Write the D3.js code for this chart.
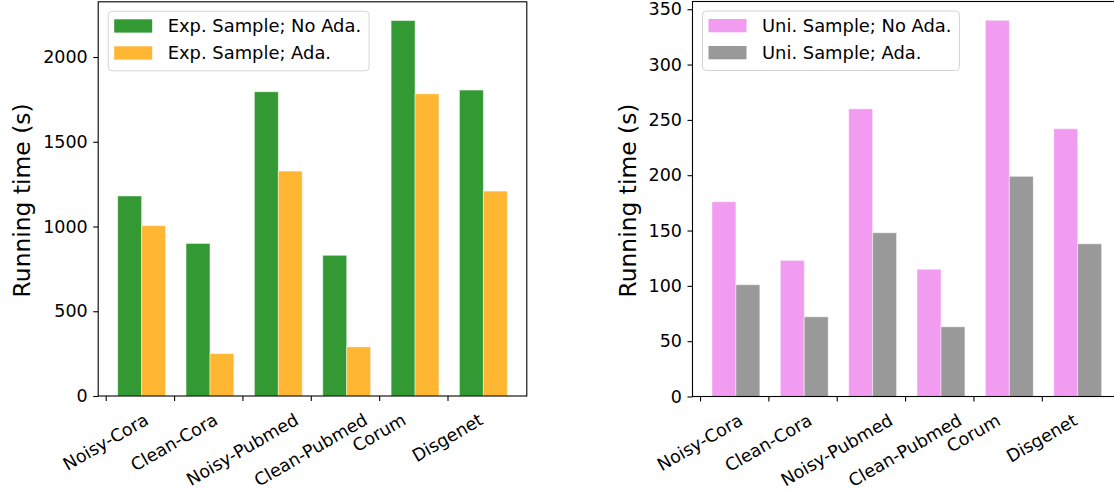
<!DOCTYPE html>
<html>
<head>
<meta charset="utf-8">
<script src="https://cdn.jsdelivr.net/npm/d3@7"></script>
<style>
  html, body { margin: 0; padding: 0; background: #fff; }
  svg { display: block; font-family: "DejaVu Sans", sans-serif; }
</style>
</head>
<body>
<svg id="chart" width="1114" height="490"></svg>
<script>
// Datasets shown along the x axis of both panels
const categories = ["Noisy-Cora", "Clean-Cora", "Noisy-Pubmed", "Clean-Pubmed", "Corum", "Disgenet"];

// Left panel: exponential sampling, running time in seconds
const expNoAda = [1180, 900, 1795, 830, 2215, 1805];
const expAda   = [1005, 250, 1327, 290, 1783, 1209];

// Right panel: uniform sampling, running time in seconds
const uniNoAda = [176, 123, 260, 115, 340, 242];
const uniAda   = [101, 72, 148, 63, 199, 138];

const leftTicks  = [0, 500, 1000, 1500, 2000];
const rightTicks = [0, 50, 100, 150, 200, 250, 300, 350];

const seriesLabels = {
  left:  ["Exp. Sample; No Ada.", "Exp. Sample; Ada."],
  right: ["Uni. Sample; No Ada.", "Uni. Sample; Ada."]
};

const svg = d3.select("#chart");
const FONT = 17.5;

function panel(opts) {
  const { x0, x1, y0, y1, a, b, colors, labels, ticks, ylabelX } = opts;
  const g = svg.append("g");

  const maxV = d3.max(a.concat(b)) * 1.05;
  const x = d3.scaleLinear().domain([-0.11, 6.16]).range([x0, x1]);
  const y = d3.scaleLinear().domain([0, maxV]).range([y1, y0]);
  const w = 0.35;

  // grouped bars: first series at i+w, second at i+2w
  [a, b].forEach((vals, s) => {
    g.append("g").selectAll("rect").data(vals).join("rect")
      .attr("x", (d, i) => x(i + w * (s + 1) - w / 2))
      .attr("width", (d, i) => x(i + w * (s + 1) + w / 2) - x(i + w * (s + 1) - w / 2))
      .attr("y", d => y(d))
      .attr("height", d => y(0) - y(d))
      .attr("fill", colors[s])
      .attr("stroke", "#ffffff")
      .attr("stroke-opacity", 0.45)
      .attr("stroke-width", 1);
  });

  // y axis
  const ya = g.append("g").attr("transform", `translate(${x0},0)`)
    .call(d3.axisLeft(y).tickValues(ticks).tickSize(5).tickPadding(5.5).tickFormat(d3.format("d")));
  ya.select(".domain").remove();
  ya.selectAll("line").attr("stroke", "#000").attr("stroke-width", 1.1);
  ya.selectAll("text").attr("font-size", FONT).attr("fill", "#000").attr("font-family", "DejaVu Sans");

  // x axis with rotated, centred labels
  const xa = g.append("g").attr("transform", `translate(0,${y1})`)
    .call(d3.axisBottom(x).tickValues(d3.range(categories.length)).tickSize(5).tickFormat(""));
  xa.select(".domain").remove();
  xa.selectAll("line").attr("stroke", "#000").attr("stroke-width", 1.1);

  const lab = g.append("g").selectAll("text").data(categories).join("text")
    .attr("font-size", FONT)
    .attr("text-anchor", "middle")
    .attr("dominant-baseline", "central")
    .text(d => d);
  lab.each(function (d, i) {
    const tw = this.getComputedTextLength();
    const bh = tw * 0.5 + 13;
    const cx = x(i), cy = y1 + 15.7 + bh / 2;
    d3.select(this).attr("x", cx).attr("y", cy)
      .attr("transform", `rotate(-30,${cx},${cy})`);
  });

  // axes frame
  g.append("rect")
    .attr("x", x0).attr("y", y0)
    .attr("width", x1 - x0).attr("height", y1 - y0)
    .attr("fill", "none").attr("stroke", "#000").attr("stroke-width", 1.1);

  // y label
  g.append("text")
    .attr("transform", `translate(${ylabelX},${(y0 + y1) / 2 + 1.5}) rotate(-90)`)
    .attr("text-anchor", "middle")
    .attr("font-size", 23.4)
    .text("Running time (s)");

  // legend
  const lg = g.append("g").attr("transform", `translate(${x0 + 10},${y0 + 9.5})`);
  const textW = [];
  const items = lg.selectAll("g").data(labels).join("g")
    .attr("transform", (d, i) => `translate(0,${i * 27})`);
  const box = lg.insert("rect", ":first-child")
    .attr("rx", 4).attr("ry", 4)
    .attr("fill", "#fff").attr("fill-opacity", 0.8)
    .attr("stroke", "#d4d4d4").attr("stroke-width", 1);
  items.append("rect")
    .attr("x", 6).attr("y", 8).attr("width", 38).attr("height", 13.3)
    .attr("fill", (d, i) => colors[i]);
  items.append("text")
    .attr("x", 59.5).attr("y", 21)
    .attr("font-size", 17.9)
    .text(d => d)
    .each(function () { textW.push(this.getComputedTextLength()); });
  box.attr("x", 0).attr("y", 0)
    .attr("width", 59.5 + d3.max(textW) + 8).attr("height", 59.5);
}

panel({
  x0: 98.2, x1: 526.8, y0: 1.8, y1: 396,
  a: expNoAda, b: expAda,
  colors: ["#339933", "#ffb733"],
  labels: seriesLabels.left, ticks: leftTicks, ylabelX: 29.5
});

panel({
  x0: 692.5, x1: 1121.1, y0: 1.5, y1: 396.5,
  a: uniNoAda, b: uniAda,
  colors: ["#f19bf1", "#999999"],
  labels: seriesLabels.right, ticks: rightTicks, ylabelX: 636
});
</script>
</body>
</html>
